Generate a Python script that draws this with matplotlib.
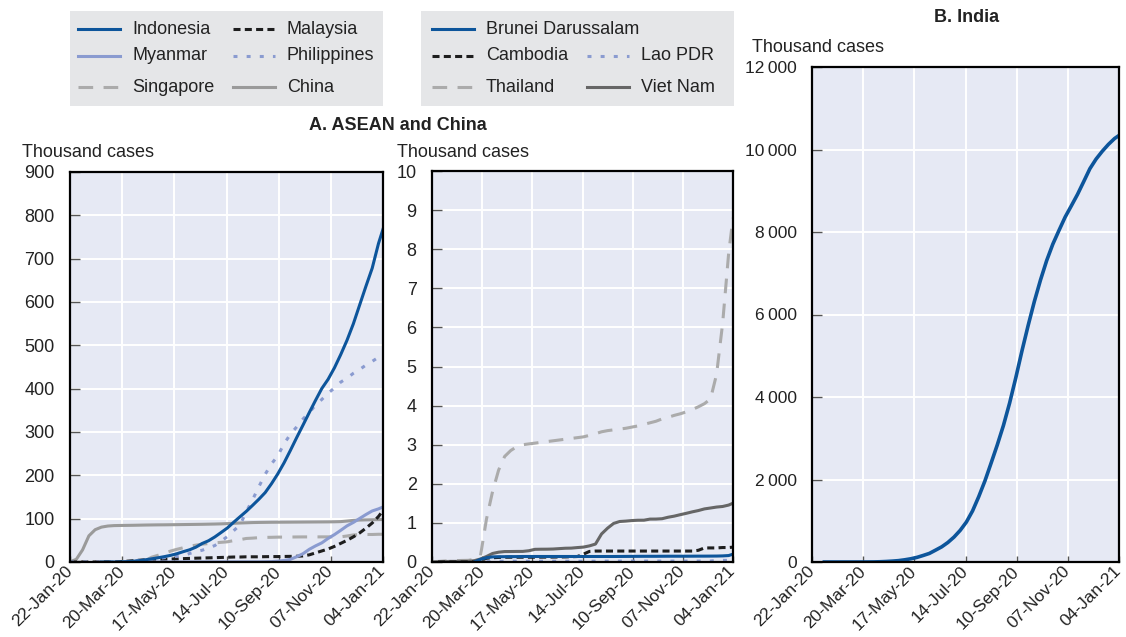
"""
plot.py - Confirmed COVID-19 cases: ASEAN, China and India (thousand cases)
"""

import numpy as np
import pandas as pd
import matplotlib
matplotlib.use("Agg")
import matplotlib.pyplot as plt
import matplotlib.dates as mdates
from matplotlib.ticker import MultipleLocator, FuncFormatter

plt.rcParams['font.family'] = ['Liberation Sans', 'DejaVu Sans']
plt.rcParams['text.color'] = '#222222'
plt.rcParams['xtick.color'] = '#222222'
plt.rcParams['ytick.color'] = '#222222'

nan = np.nan

# ------------------- 1. Data (thousand cases, weekly, last point 04-Jan-21) -------------------
dates = list(pd.date_range("2020-01-22", "2020-12-30", freq="7D")) + [pd.Timestamp("2021-01-04")]
tick_dates = pd.to_datetime(["2020-01-22", "2020-03-20", "2020-05-17", "2020-07-14",
                             "2020-09-10", "2020-11-07", "2021-01-04"])

indonesia = [nan, nan, nan, nan, nan, 0, 0.002, 0.03, 0.23, 0.79,
             1.7, 3.0, 5.1, 7.4, 9.8, 12.4, 15.4, 19.2, 23.9, 28.2,
             34.3, 42.8, 49.0, 57.8, 68.1, 78.6, 91.8, 104.4, 116.9, 130.7,
             144.9, 160.2, 180.6, 203.3, 228.9, 257.4, 287.0, 315.7, 344.7, 373.1,
             400.5, 421.7, 448.1, 478.7, 511.8, 549.5, 592.9, 636.2, 678.1, 735.1,
             768.0]
philippines = [0, 0, 0, 0, 0, 0, 0.003, 0.05, 0.2, 0.64,
               2.3, 3.9, 5.45, 6.7, 8.2, 10.0, 11.6, 13.2, 15.0, 19.7,
               23.7, 27.2, 32.3, 38.0, 47.9, 58.9, 72.3, 85.5, 116.0, 143.7,
               173.8, 202.4, 226.4, 245.1, 272.9, 294.6, 311.7, 329.8, 344.7, 362.2,
               375.2, 389.7, 401.4, 415.1, 424.3, 435.4, 444.2, 454.4, 463.0, 472.5,
               478.0]
myanmar = [nan, nan, nan, nan, nan, nan, nan, nan, nan, 0.003,
           0.015, 0.022, 0.085, 0.13, 0.15, 0.16, 0.18, 0.2, 0.21, 0.23,
           0.26, 0.26, 0.29, 0.30, 0.32, 0.33, 0.34, 0.35, 0.36, 0.37,
           0.38, 0.6, 0.9, 2.0, 3.6, 6.0, 12.1, 19.1, 29.2, 37.2,
           44.2, 54.5, 63.2, 73.1, 83.4, 91.3, 100.4, 109.5, 117.8, 122.6,
           127.0]
malaysia = [0, 0.004, 0.012, 0.018, 0.022, 0.022, 0.05, 0.13, 0.79, 1.8,
            2.9, 4.1, 5.1, 5.5, 5.9, 6.4, 6.8, 7.2, 7.8, 8.3,
            8.8, 9.2, 9.6, 10.0, 10.5, 11.0, 11.5, 11.5, 12.0, 12.0,
            12.0, 12.3, 12.5, 12.5, 12.8, 13.0, 13.2, 14.0, 16.5, 21.0,
            25.5, 30.0, 36.0, 43.0, 50.0, 58.0, 67.0, 78.0, 90.0, 105.0,
            119.0]
singapore = [0, 0.01, 0.024, 0.047, 0.084, 0.093, 0.11, 0.17, 0.31, 0.63,
             1.0, 1.6, 3.7, 11.2, 15.6, 20.2, 25.3, 29.4, 32.9, 36.4,
             38.9, 41.2, 42.6, 44.1, 45.4, 46.6, 49.4, 51.5, 54.3, 55.1,
             56.2, 56.8, 57.0, 57.4, 57.5, 57.6, 57.8, 57.9, 57.9, 57.9,
             58.0, 58.0, 58.1, 58.1, 60.0, 62.5, 63.0, 63.5, 63.5, 64.0,
             64.0]
china = [0.6, 6.1, 28.1, 60.4, 74.6, 80.5, 83.0, 84.0, 84.3, 84.5,
         84.7, 85.0, 85.3, 85.5, 85.7, 85.8, 86.0, 86.2, 86.4, 86.6,
         86.8, 87.0, 87.3, 87.6, 88.0, 88.6, 89.3, 90.0, 90.5, 91.0,
         91.3, 91.5, 91.7, 91.8, 91.9, 92.0, 92.1, 92.2, 92.3, 92.4,
         92.5, 92.6, 92.8, 93.2, 94.5, 96.0, 96.8, 97.2, 97.5, 97.8,
         98.0]

brunei = [nan, nan, nan, nan, nan, nan, nan, 0.001, 0.068, 0.109,
          0.131, 0.135, 0.136, 0.138, 0.138, 0.141, 0.141, 0.141, 0.141, 0.141,
          0.141, 0.141, 0.141, 0.141, 0.141, 0.141, 0.141, 0.141, 0.141, 0.141,
          0.141, 0.142, 0.143, 0.144, 0.145, 0.146, 0.146, 0.146, 0.147, 0.148,
          0.148, 0.148, 0.148, 0.149, 0.150, 0.150, 0.151, 0.152, 0.156, 0.165,
          0.20]
cambodia = [nan, 0.001, 0.001, 0.001, 0.001, 0.001, 0.001, 0.003, 0.035, 0.096,
            0.109, 0.117, 0.122, 0.122, 0.122, 0.122, 0.122, 0.122, 0.124, 0.125,
            0.126, 0.128, 0.13, 0.135, 0.14, 0.20, 0.27, 0.28, 0.28, 0.28,
            0.28, 0.28, 0.28, 0.28, 0.28, 0.28, 0.28, 0.28, 0.28, 0.28,
            0.28, 0.28, 0.28, 0.28, 0.30, 0.36, 0.36, 0.36, 0.37, 0.37,
            0.38]
lao_pdr = [nan, nan, nan, nan, nan, nan, nan, nan, nan, 0.006,
           0.010, 0.016, 0.019, 0.019, 0.019, 0.019, 0.019, 0.019, 0.019, 0.019,
           0.019, 0.019, 0.019, 0.019, 0.019, 0.019, 0.019, 0.019, 0.020, 0.022,
           0.022, 0.022, 0.022, 0.023, 0.023, 0.023, 0.023, 0.023, 0.023, 0.023,
           0.023, 0.023, 0.023, 0.023, 0.023, 0.024, 0.025, 0.039, 0.041, 0.041,
           0.041]
thailand = [0.004, 0.014, 0.025, 0.033, 0.035, 0.040, 0.043, 0.070, 0.15, 1.1,
            1.8, 2.35, 2.7, 2.85, 2.95, 3.0, 3.02, 3.04, 3.06, 3.08,
            3.1, 3.12, 3.14, 3.16, 3.18, 3.2, 3.24, 3.28, 3.33, 3.36,
            3.38, 3.4, 3.42, 3.45, 3.48, 3.52, 3.56, 3.6, 3.66, 3.7,
            3.75, 3.79, 3.84, 3.9, 3.97, 4.05, 4.17, 4.8, 6.1, 7.9,
            8.8]
viet_nam = [0, 0.002, 0.010, 0.016, 0.016, 0.016, 0.016, 0.035, 0.076, 0.141,
            0.218, 0.251, 0.267, 0.268, 0.270, 0.271, 0.288, 0.324, 0.327, 0.328,
            0.332, 0.342, 0.352, 0.355, 0.369, 0.381, 0.412, 0.459, 0.717, 0.866,
            0.987, 1.036, 1.046, 1.060, 1.068, 1.069, 1.097, 1.098, 1.107, 1.145,
            1.173, 1.210, 1.245, 1.283, 1.316, 1.358, 1.381, 1.405, 1.420, 1.456,
            1.504]

india = [nan, nan, 0.003, 0.003, 0.003, 0.003, 0.028, 0.062, 0.151, 0.657,
         2.0, 5.9, 12.4, 21.4, 33.0, 52.9, 78.0, 112.0, 158.3, 207.6,
         286.6, 367.3, 473.1, 604.6, 767.3, 968.9, 1238.6, 1583.8, 1964.5, 2396.6,
         2836.9, 3310.2, 3853.4, 4465.9, 5118.3, 5732.5, 6312.6, 6835.7, 7307.1, 7706.9,
         8040.2, 8364.1, 8636.0, 8912.9, 9222.2, 9534.9, 9767.4, 9956.6, 10123.8, 10266.7,
         10340.5]

panel_a_big = {"China": china, "Singapore": singapore, "Malaysia": malaysia,
               "Myanmar": myanmar, "Philippines": philippines, "Indonesia": indonesia}
panel_a_small = {"Thailand": thailand, "Viet Nam": viet_nam, "Cambodia": cambodia,
                 "Brunei Darussalam": brunei, "Lao PDR": lao_pdr}

# ------------------- 2. Styles -------------------
DARK_BLUE = "#0d559b"
LIGHT_BLUE = "#8a9bd0"
LW = 2.2
styles = {
    "Indonesia":         dict(color=DARK_BLUE, ls="-"),
    "Brunei Darussalam": dict(color=DARK_BLUE, ls="-"),
    "Myanmar":           dict(color=LIGHT_BLUE, ls="-"),
    "Philippines":       dict(color=LIGHT_BLUE, ls=(0, (1.3, 3.0))),
    "Lao PDR":           dict(color=LIGHT_BLUE, ls=(0, (1.3, 3.0))),
    "Malaysia":          dict(color="#1e1e1e", ls=(0, (2.3, 1.4))),
    "Cambodia":          dict(color="#1e1e1e", ls=(0, (2.3, 1.4))),
    "Singapore":         dict(color="#ababab", ls=(0, (4.8, 3.4))),
    "Thailand":          dict(color="#ababab", ls=(0, (4.8, 3.4))),
    "China":             dict(color="#9a9a9a", ls="-"),
    "Viet Nam":          dict(color="#666666", ls="-"),
}

W, H = 1126, 637
fig = plt.figure(figsize=(W / 100, H / 100), dpi=100)


def px_rect(x, y, w, h):
    # pixel box (top-left origin) -> figure fraction
    return [x / W, 1 - (y + h) / H, w / W, h / H]


def setup_axes(ax, ymax, ystep):
    ax.set_facecolor("#e6e9f4")
    ax.set_xlim(pd.Timestamp("2020-01-22"), pd.Timestamp("2021-01-04"))
    ax.set_ylim(0, ymax)
    ax.yaxis.set_major_locator(MultipleLocator(ystep))
    ax.set_xticks(tick_dates)
    ax.xaxis.set_major_formatter(mdates.DateFormatter("%d-%b-%y"))
    ax.grid(True, color="white", lw=1.4)
    ax.set_axisbelow(True)
    for s in ax.spines.values():
        s.set_color("black")
        s.set_linewidth(1.6)
    ax.tick_params(axis="y", direction="in", length=7, width=1, color="#555555",
                   pad=11, labelsize=13)
    ax.tick_params(axis="x", direction="in", length=4.5, width=1, color="#555555",
                   pad=5, labelsize=12.5)
    plt.setp(ax.get_xticklabels(), rotation=45, ha="right", va="center",
             rotation_mode="anchor")


# ------------------- 3. Panel A (left): large ASEAN + China -------------------
ax1 = fig.add_axes(px_rect(70, 172, 313, 390))
for name, vals in panel_a_big.items():
    ax1.plot(dates, vals, lw=LW, **styles[name])
setup_axes(ax1, 900, 100)

# ------------------- 4. Panel A (middle): small ASEAN -------------------
ax2 = fig.add_axes(px_rect(432, 171, 301, 391))
for name, vals in panel_a_small.items():
    ax2.plot(dates, vals, lw=LW, **styles[name])
setup_axes(ax2, 10, 1)

# ------------------- 5. Panel B: India -------------------
ax3 = fig.add_axes(px_rect(812, 67, 307, 495))
ax3.plot(dates, india, lw=LW + 0.4, color=DARK_BLUE)
setup_axes(ax3, 12000, 2000)
ax3.yaxis.set_major_formatter(FuncFormatter(lambda v, p: f"{int(v):,}".replace(",", "\u2009")))
ax3.tick_params(axis="y", labelsize=12.5)

# ------------------- 6. Titles & unit labels -------------------
fig.text(398 / W, 1 - 125 / H, "A. ASEAN and China", ha="center", va="center",
         fontsize=13, fontweight="bold")
fig.text(967 / W, 1 - 18 / H, "B. India", ha="center", va="center",
         fontsize=13, fontweight="bold")
for x, y in [(22, 157), (397, 157), (752, 52)]:
    fig.text(x / W, 1 - y / H, "Thousand cases", ha="left", va="baseline", fontsize=13)


# ------------------- 7. Legends (drawn as boxes above the panels) -------------------
def draw_legend(x, entries):
    lax = fig.add_axes(px_rect(x, 11, 313, 95))
    lax.set_facecolor("#e5e6e8")
    lax.set_xlim(0, 313)
    lax.set_ylim(95, 0)
    lax.set_xticks([])
    lax.set_yticks([])
    for s in lax.spines.values():
        s.set_visible(False)
    for name, hx, hy in entries:
        lax.plot([hx, hx + 42], [hy, hy], lw=LW, **styles[name])
        lax.text(hx + 54, hy, name, ha="left", va="center", fontsize=13)


draw_legend(70, [("Indonesia", 8, 18), ("Malaysia", 163, 18),
                 ("Myanmar", 8, 45), ("Philippines", 163, 45),
                 ("Singapore", 8, 76), ("China", 163, 76)])
draw_legend(421, [("Brunei Darussalam", 11, 18),
                  ("Cambodia", 11, 45), ("Lao PDR", 166, 45),
                  ("Thailand", 11, 76), ("Viet Nam", 166, 76)])

fig.savefig("out.png", dpi=100)
